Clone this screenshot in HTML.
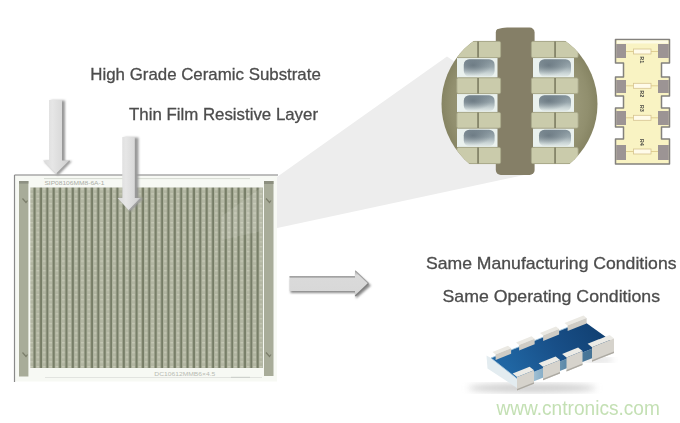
<!DOCTYPE html>
<html><head><meta charset="utf-8">
<style>
html,body{margin:0;padding:0;background:#fff;}
body{width:680px;height:423px;overflow:hidden;position:relative;font-family:"Liberation Sans",sans-serif;}
svg{position:absolute;left:0;top:0;display:block;filter:blur(0.3px);}
</style></head>
<body>
<svg width="680" height="423" viewBox="0 0 680 423">
<defs>
  <clipPath id="cc"><circle cx="519.5" cy="104" r="78"/></clipPath>
  <pattern id="stripes" x="29.2" y="187.5" width="6.374" height="4.8" patternUnits="userSpaceOnUse">
    <rect x="0" y="0" width="6.374" height="4.8" fill="#afb39f"/>
    <rect x="0.9" y="0.8" width="3" height="1.6" fill="#c5c8b5"/>
    <rect x="1.2" y="3.4" width="2.4" height="0.8" fill="#bbbfab"/>
    <rect x="3.9" y="0" width="0.7" height="4.8" fill="#939983"/>
    <rect x="4.6" y="0" width="1.8" height="4.8" fill="#757c65"/>
    <rect x="6.35" y="0" width="0.03" height="4.8" fill="#939983"/>
  </pattern>
  <linearGradient id="hole" x1="0" y1="0" x2="0" y2="1">
    <stop offset="0" stop-color="#7f8e96"/>
    <stop offset="0.45" stop-color="#99a7ad"/>
    <stop offset="0.8" stop-color="#c9d4d5"/>
    <stop offset="1" stop-color="#e0e8e6"/>
  </linearGradient>
  <radialGradient id="holespot" cx="0.3" cy="0.35" r="0.6">
    <stop offset="0" stop-color="#5e6c76" stop-opacity="0.7"/>
    <stop offset="1" stop-color="#5e6c76" stop-opacity="0"/>
  </radialGradient>
  <linearGradient id="arrV" x1="0" x2="1" y1="0" y2="0">
    <stop offset="0" stop-color="#dadada"/>
    <stop offset="0.35" stop-color="#e6e6e6"/>
    <stop offset="0.8" stop-color="#d6d6d6"/>
    <stop offset="1" stop-color="#c8c8c8"/>
  </linearGradient>
  <linearGradient id="arrH" x1="0" x2="0" y1="0" y2="1">
    <stop offset="0" stop-color="#a5a5a5"/>
    <stop offset="0.2" stop-color="#dadada"/>
    <stop offset="0.8" stop-color="#d8d8d8"/>
    <stop offset="1" stop-color="#c4c4c4"/>
  </linearGradient>
  <linearGradient id="blueg" x1="0" y1="0.3" x2="1" y2="0">
    <stop offset="0" stop-color="#2066a3"/>
    <stop offset="0.45" stop-color="#184f88"/>
    <stop offset="1" stop-color="#0f3c6c"/>
  </linearGradient>
  <linearGradient id="frontg" x1="0" y1="0" x2="1" y2="0">
    <stop offset="0" stop-color="#d2e2ec"/>
    <stop offset="0.25" stop-color="#8db2ca"/>
    <stop offset="0.6" stop-color="#4d7c9e"/>
    <stop offset="1" stop-color="#3e6a8c"/>
  </linearGradient>
  <radialGradient id="olive" cx="519.5" cy="104" r="78" gradientUnits="userSpaceOnUse">
    <stop offset="0.7" stop-color="#9a9878"/>
    <stop offset="0.88" stop-color="#918f6e"/>
    <stop offset="1" stop-color="#868463"/>
  </radialGradient>
  <filter id="blur1" x="-50%" y="-50%" width="200%" height="200%"><feGaussianBlur stdDeviation="1"/></filter>
  <filter id="blur05" x="-2%" y="-2%" width="104%" height="104%"><feGaussianBlur stdDeviation="0.45"/></filter>
  <filter id="blur3"><feGaussianBlur stdDeviation="3"/></filter>
</defs>

<!-- beam -->
<polygon points="222,216 447,56.5 458,64 519.5,104 524,175 222,240" fill="#ededed"/>

<!-- substrate -->
<g id="substrate">
  <rect x="15" y="175.5" width="262" height="206" fill="#f7f9f4"/>
  <line x1="14.5" y1="175" x2="278" y2="175" stroke="#7f7f7f" stroke-width="1.2"/>
  <line x1="14.5" y1="175" x2="14.5" y2="382" stroke="#8a8a8a" stroke-width="1.2"/>
  <line x1="44" y1="178.6" x2="250" y2="178.6" stroke="#cdd0c8" stroke-width="0.8"/>
  <line x1="45" y1="377.5" x2="262" y2="377.5" stroke="#dcdedb" stroke-width="0.8"/>
  <line x1="231" y1="377.3" x2="250" y2="377.3" stroke="#c4c6c2" stroke-width="0.8"/>
  <rect x="30.3" y="187.5" width="232.5" height="180.5" fill="url(#stripes)" filter="url(#blur05)"/>
  <!-- side bars -->
  <rect x="19" y="181" width="9.4" height="195.5" fill="#a8ac99"/>
  <rect x="19" y="181" width="9.4" height="2.6" fill="#8e9183"/>
  <rect x="264" y="181" width="9.5" height="195" fill="#a8ac99"/>
  <rect x="264" y="181" width="9.5" height="3" fill="#8c8f7f"/>
  <g stroke="#6f725f" stroke-width="1.2" fill="none" opacity="0.8">
    <path d="M22.5,198.5 L26,202.5 L27.5,200.5"/>
    <path d="M22.5,352.5 L26,356.5 L27.5,354.5"/>
    <path d="M266,198.5 L269.5,202.5 L271,200.5"/>
    <path d="M266,352.5 L269.5,356.5 L271,354.5"/>
  </g>
  <text x="44.4" y="184.8" font-size="4.6" fill="#a9aca4" font-family="Liberation Sans" textLength="60" lengthAdjust="spacingAndGlyphs">SIP08106MM8-6A-1</text>
  <text x="154.3" y="375.8" font-size="5" fill="#b8bbb3" font-family="Liberation Sans" textLength="61" lengthAdjust="spacingAndGlyphs">DC10612MMB6×4.5</text>
  <!-- beam overlay on substrate -->
  <polygon points="222,216 262,187 262,231 222,240" fill="#ffffff" opacity="0.09"/>
</g>

<!-- arrows down -->
<g>
  <polygon points="51,100.5 65,100.5 65,161 72,161 58,175.5 44,161 51,161" fill="#999" filter="url(#blur1)"/>
  <polygon points="49,100 62,100 62,160.5 70,160.5 56.5,174 43,160.5 49,160.5" fill="url(#arrV)"/>
  <line x1="69.6" y1="161" x2="56.8" y2="173.6" stroke="#a3a3a3" stroke-width="1.2"/>
  <polygon points="124.5,137.5 138.5,137.5 138.5,198 143.5,198 130.5,211.5 119,198 124.5,198" fill="#999" filter="url(#blur1)"/>
  <polygon points="122.3,137 134.8,137 134.8,198 141,198 129,210.5 117.6,198 122.3,198" fill="url(#arrV)"/>
  <line x1="140.6" y1="198.5" x2="129.3" y2="210.1" stroke="#a3a3a3" stroke-width="1.2"/>
</g>

<!-- right arrow -->
<polygon points="290.5,278.5 356,278.5 356,272.5 371,285.5 356,298.5 356,293 290.5,293" fill="#8c8c8c" filter="url(#blur1)"/>
<polygon points="289.5,276.2 355,276.2 355,270.3 369,283.5 355,296.5 355,291 289.5,291" fill="url(#arrH)"/>
<line x1="289.5" y1="276.9" x2="355" y2="276.9" stroke="#8e8e8e" stroke-width="1.3"/>
<line x1="355.3" y1="270.8" x2="368.5" y2="283.4" stroke="#a0a0a0" stroke-width="1.1"/>
<line x1="368.5" y1="283.6" x2="355.3" y2="296" stroke="#7e7e7e" stroke-width="1.4"/>

<!-- circle zoom -->
<g clip-path="url(#cc)">
<rect x="430" y="41" width="180" height="123" fill="url(#olive)"/>
<rect x="495.8" y="27.5" width="38.8" height="147.5" rx="5" fill="#857f67"/>
<rect x="457" y="58" width="40.5" height="19.5" fill="#eaf1ee"/>
<rect x="463.8" y="59.2" width="30.8" height="17.3" rx="5.5" fill="url(#hole)"/>
<rect x="463.8" y="59.2" width="30.8" height="17.3" rx="5.5" fill="url(#holespot)"/>
<rect x="457" y="94" width="40.5" height="18" fill="#eaf1ee"/>
<rect x="463.8" y="95.2" width="30.8" height="15.8" rx="5.5" fill="url(#hole)"/>
<rect x="463.8" y="95.2" width="30.8" height="15.8" rx="5.5" fill="url(#holespot)"/>
<rect x="457" y="128.5" width="40.5" height="18.5" fill="#eaf1ee"/>
<rect x="463.8" y="129.7" width="30.8" height="16.3" rx="5.5" fill="url(#hole)"/>
<rect x="463.8" y="129.7" width="30.8" height="16.3" rx="5.5" fill="url(#holespot)"/>
<rect x="533" y="58" width="41" height="19.5" fill="#eaf1ee"/>
<rect x="539" y="59.2" width="32" height="17.3" rx="5.5" fill="url(#hole)"/>
<rect x="539" y="59.2" width="32" height="17.3" rx="5.5" fill="url(#holespot)"/>
<rect x="533" y="94" width="41" height="18" fill="#eaf1ee"/>
<rect x="539" y="95.2" width="32" height="15.8" rx="5.5" fill="url(#hole)"/>
<rect x="539" y="95.2" width="32" height="15.8" rx="5.5" fill="url(#holespot)"/>
<rect x="533" y="128.5" width="41" height="18.5" fill="#eaf1ee"/>
<rect x="539" y="129.7" width="32" height="16.3" rx="5.5" fill="url(#hole)"/>
<rect x="539" y="129.7" width="32" height="16.3" rx="5.5" fill="url(#holespot)"/>
<rect x="456.9" y="41.4" width="43.7" height="16.2" rx="1.5" fill="#cacbab" stroke="#a9aa8c" stroke-width="0.8"/>
<rect x="477.4" y="41.5" width="1.3" height="16" fill="#6b6a50"/>
<rect x="456.9" y="77.9" width="43.7" height="15.7" rx="1.5" fill="#cacbab" stroke="#a9aa8c" stroke-width="0.8"/>
<rect x="477.4" y="78.0" width="1.3" height="15.5" fill="#6b6a50"/>
<rect x="456.9" y="112.4" width="43.7" height="15.7" rx="1.5" fill="#cacbab" stroke="#a9aa8c" stroke-width="0.8"/>
<rect x="477.4" y="112.5" width="1.3" height="15.5" fill="#6b6a50"/>
<rect x="456.9" y="147.4" width="43.7" height="16.2" rx="1.5" fill="#cacbab" stroke="#a9aa8c" stroke-width="0.8"/>
<rect x="477.4" y="147.5" width="1.3" height="16" fill="#6b6a50"/>
<rect x="531.4" y="41.4" width="46.7" height="16.2" rx="1.5" fill="#cacbab" stroke="#a9aa8c" stroke-width="0.8"/>
<rect x="554.4" y="41.5" width="1.3" height="16" fill="#6b6a50"/>
<rect x="531.4" y="77.9" width="46.7" height="15.7" rx="1.5" fill="#cacbab" stroke="#a9aa8c" stroke-width="0.8"/>
<rect x="554.4" y="78.0" width="1.3" height="15.5" fill="#6b6a50"/>
<rect x="531.4" y="112.4" width="46.7" height="15.7" rx="1.5" fill="#cacbab" stroke="#a9aa8c" stroke-width="0.8"/>
<rect x="554.4" y="112.5" width="1.3" height="15.5" fill="#6b6a50"/>
<rect x="531.4" y="147.4" width="46.7" height="16.2" rx="1.5" fill="#cacbab" stroke="#a9aa8c" stroke-width="0.8"/>
<rect x="554.4" y="147.5" width="1.3" height="16" fill="#6b6a50"/>
</g>


<!-- resistor network diagram -->
<g id="rnet">
  <path d="M615.5,39.5 H669.5 V63 H661.5 V77 H669.5 V96 H661.5 V108 H669.5 V127 H661.5 V139 H669.5 V164 H615.5 V139 H623.5 V127 H615.5 V108 H623.5 V96 H615.5 V77 H623.5 V63 H615.5 Z" fill="#f9f3c3" stroke="#83817d" stroke-width="1.5" stroke-linejoin="round"/>
  <rect x="617" y="40.5" width="51" height="3" fill="#fdfbe6"/>
  <g fill="#9c9494">
    <rect x="616.2" y="44" width="9.8" height="14"/><rect x="658" y="44" width="10.8" height="14"/>
    <rect x="616.2" y="80" width="9.8" height="13"/><rect x="658" y="80" width="10.8" height="13"/>
    <rect x="616.2" y="111" width="9.8" height="14"/><rect x="658" y="111" width="10.8" height="14"/>
    <rect x="616.2" y="145" width="9.8" height="15"/><rect x="658" y="145" width="10.8" height="15"/>
  </g>
  <g stroke="#dccb8c" stroke-width="0.9">
    <line x1="626" y1="51.5" x2="658" y2="51.5"/>
    <line x1="626" y1="85.8" x2="658" y2="85.8"/>
    <line x1="626" y1="117.8" x2="658" y2="117.8"/>
    <line x1="626" y1="151.5" x2="658" y2="151.5"/>
  </g>
  <g fill="#fffbea" stroke="#d6c490" stroke-width="0.8">
    <rect x="633.5" y="49" width="17.5" height="5"/>
    <rect x="633.5" y="83.3" width="17.5" height="5"/>
    <rect x="633.5" y="115.3" width="17.5" height="5"/>
    <rect x="633.5" y="149" width="17.5" height="5"/>
  </g>
  <g font-family="Liberation Sans" font-size="5.5" fill="#4a4a45" font-weight="bold">
    <text transform="translate(640.3,56.3) rotate(90)">R1</text>
    <text transform="translate(640.3,90.2) rotate(90)">R2</text>
    <text transform="translate(640.3,104.8) rotate(90)">R3</text>
    <text transform="translate(640.3,138.8) rotate(90)">R4</text>
  </g>
</g>

<g id="chip3d">
<ellipse cx="532" cy="388" rx="64" ry="4.5" fill="#cfcfcf" filter="url(#blur3)"/>
<ellipse cx="598" cy="360" rx="16" ry="2.5" fill="#dadada" filter="url(#blur3)"/>
<polygon points="486.5,355.5 491,358 517,378.5 517,388.0 487.5,368.5" fill="#e3ecf0"/>
<polygon points="517,378.5 611.5,341 611.5,350.5 517,388.0" fill="url(#frontg)"/>
<polygon points="491,358 583.5,321 611.5,341 517,378.5" fill="url(#blueg)"/>
<polyline points="517,378.5 491,358 583.5,321" fill="none" stroke="#9ec3dc" stroke-width="1" opacity="0.8"/>
<polygon points="512.6,373.5 529.6,366.8 534,370.3 517,377.0" fill="#ecebe6"/>
<polygon points="517,377.0 534,370.3 534,383.8 517,390.5" fill="#d6d3cc"/>
<polygon points="517,389.0 534,382.3 534,383.8 517,390.5" fill="#aca9a2"/>
<polygon points="538.6,363.2 555.6,356.5 560,359.9 543,366.7" fill="#ecebe6"/>
<polygon points="543,366.7 560,359.9 560,373.4 543,380.2" fill="#d6d3cc"/>
<polygon points="543,378.7 560,371.9 560,373.4 543,380.2" fill="#aca9a2"/>
<polygon points="562.1,353.9 578.1,347.5 582.5,351.0 566.5,357.4" fill="#ecebe6"/>
<polygon points="566.5,357.4 582.5,351.0 582.5,365.0 566.5,371.4" fill="#d6d3cc"/>
<polygon points="566.5,369.9 582.5,363.5 582.5,365.0 566.5,371.4" fill="#aca9a2"/>
<polygon points="587.6,343.8 609.6,335.0 614,338.5 592,347.2" fill="#ecebe6"/>
<polygon points="592,347.2 614,338.5 614,353.0 592,361.7" fill="#d6d3cc"/>
<polygon points="592,360.2 614,351.5 614,353.0 592,361.7" fill="#aca9a2"/>
<polygon points="492.5,351.9 508,345.7 511.1,348.2 495.6,354.4" fill="#ebe9e3"/>
<polygon points="495.6,354.4 511.1,348.2 511.1,353.7 495.6,359.9" fill="#cfccc5"/>
<polygon points="516,342.5 531.5,336.3 534.6,338.8 519.1,345.0" fill="#ebe9e3"/>
<polygon points="519.1,345.0 534.6,338.8 534.6,344.3 519.1,350.5" fill="#cfccc5"/>
<polygon points="540,332.9 556,326.5 559.1,329.0 543.1,335.4" fill="#ebe9e3"/>
<polygon points="543.1,335.4 559.1,329.0 559.1,334.5 543.1,340.9" fill="#cfccc5"/>
<polygon points="564.5,323.1 583.5,315.5 586.6,318.0 567.6,325.6" fill="#ebe9e3"/>
<polygon points="567.6,325.6 586.6,318.0 586.6,323.5 567.6,331.1" fill="#cfccc5"/>
</g>

<!-- texts -->
<g font-family="Liberation Sans" fill="#4c4c4c" stroke="#4c4c4c" stroke-width="0.3" font-size="17">
  <text x="90.3" y="80" textLength="230.5" lengthAdjust="spacingAndGlyphs">High Grade Ceramic Substrate</text>
  <text x="129" y="120" textLength="189" lengthAdjust="spacingAndGlyphs">Thin Film Resistive Layer</text>
  <text x="426" y="269.2" textLength="250.5" lengthAdjust="spacingAndGlyphs">Same Manufacturing Conditions</text>
  <text x="442.5" y="301.5" textLength="217.5" lengthAdjust="spacingAndGlyphs">Same Operating Conditions</text>
</g>
<text x="496.4" y="414.6" font-family="Liberation Sans" font-size="19.5" fill="#c4e0b4" textLength="163.5" lengthAdjust="spacingAndGlyphs">www.cntronics.com</text>
</svg>
</body></html>
